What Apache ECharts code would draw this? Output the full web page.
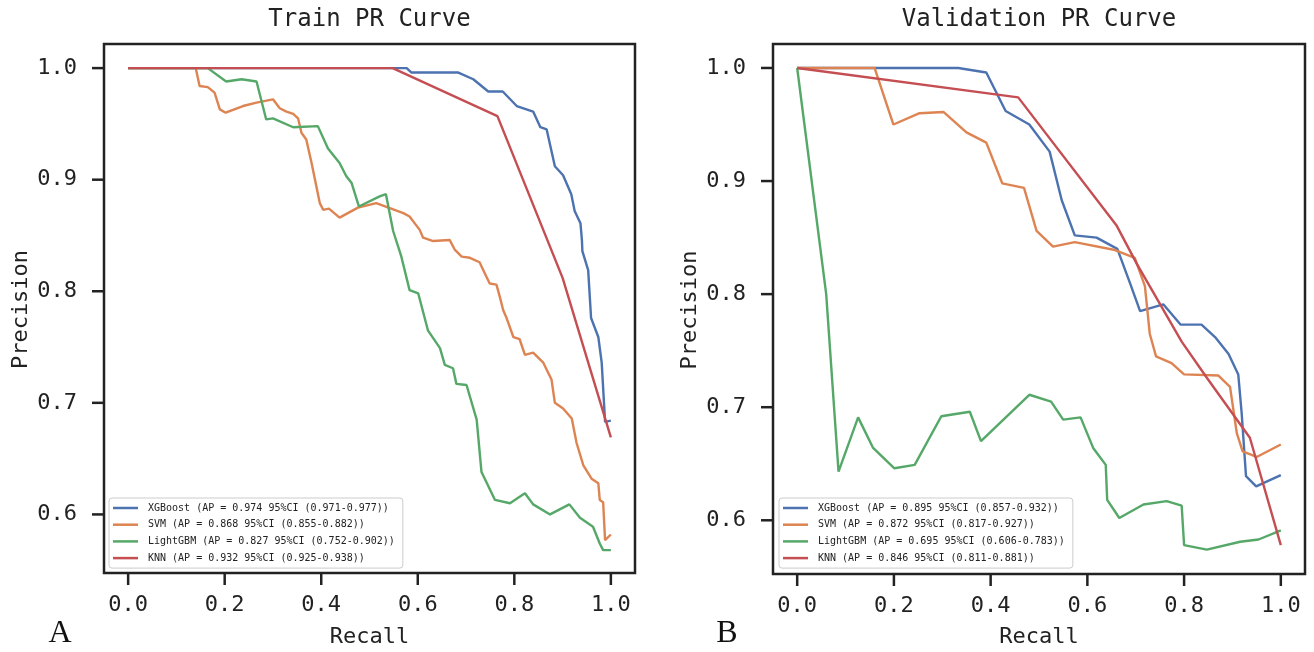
<!DOCTYPE html>
<html>
<head>
<meta charset="utf-8">
<script src="https://cdn.jsdelivr.net/npm/echarts@6/dist/echarts.min.js"></script>
<style>html,body{margin:0;padding:0;background:#fff}#c{width:1314px;height:652px}</style>
</head>
<body>
<div id="c"></div>
<script>
// ---------- DATA ----------
const panelTitles = ['Train PR Curve', 'Validation PR Curve'];
const panelLetters = ['A', 'B'];
const xTicks = [0.0, 0.2, 0.4, 0.6, 0.8, 1.0];
const yTicks = [0.6, 0.7, 0.8, 0.9, 1.0];
const xLabel = 'Recall';
const yLabel = 'Precision';
const trainLegend = [
  'XGBoost (AP = 0.974 95%CI (0.971-0.977))',
  'SVM (AP = 0.868 95%CI (0.855-0.882))',
  'LightGBM (AP = 0.827 95%CI (0.752-0.902))',
  'KNN (AP = 0.932 95%CI (0.925-0.938))'
];
const valLegend = [
  'XGBoost (AP = 0.895 95%CI (0.857-0.932))',
  'SVM (AP = 0.872 95%CI (0.817-0.927))',
  'LightGBM (AP = 0.695 95%CI (0.606-0.783))',
  'KNN (AP = 0.846 95%CI (0.811-0.881))'
];

// [recall, precision]
const trainXGBoost = [[0,1],[0.577,1],[0.587,0.996],[0.684,0.996],[0.715,0.990],[0.746,0.979],[0.776,0.979],[0.805,0.966],[0.839,0.961],[0.854,0.947],[0.867,0.945],[0.884,0.912],[0.901,0.904],[0.918,0.887],[0.925,0.872],[0.937,0.861],[0.940,0.846],[0.941,0.836],[0.953,0.819],[0.959,0.776],[0.974,0.759],[0.981,0.736],[0.988,0.683],[1.0,0.684]];
const trainSVM = [[0,1],[0.140,1],[0.148,0.984],[0.165,0.983],[0.179,0.978],[0.190,0.963],[0.202,0.960],[0.238,0.966],[0.266,0.969],[0.300,0.972],[0.314,0.964],[0.328,0.961],[0.342,0.959],[0.352,0.955],[0.359,0.942],[0.369,0.936],[0.380,0.915],[0.397,0.879],[0.404,0.873],[0.416,0.874],[0.438,0.866],[0.476,0.875],[0.514,0.879],[0.570,0.870],[0.583,0.867],[0.604,0.855],[0.611,0.848],[0.632,0.845],[0.666,0.846],[0.677,0.837],[0.691,0.831],[0.708,0.830],[0.728,0.826],[0.739,0.816],[0.749,0.807],[0.763,0.806],[0.770,0.795],[0.777,0.783],[0.784,0.776],[0.798,0.759],[0.811,0.757],[0.822,0.743],[0.839,0.745],[0.860,0.736],[0.877,0.721],[0.884,0.700],[0.901,0.695],[0.919,0.686],[0.929,0.664],[0.943,0.644],[0.960,0.632],[0.974,0.628],[0.977,0.613],[0.984,0.611],[0.988,0.577],[1.0,0.582]];
const trainLightGBM = [[0,1],[0.165,1],[0.203,0.988],[0.235,0.990],[0.266,0.988],[0.286,0.954],[0.300,0.955],[0.342,0.947],[0.393,0.948],[0.414,0.928],[0.438,0.915],[0.452,0.903],[0.463,0.897],[0.478,0.876],[0.521,0.885],[0.534,0.887],[0.549,0.854],[0.566,0.831],[0.583,0.801],[0.601,0.798],[0.621,0.765],[0.646,0.749],[0.656,0.734],[0.673,0.731],[0.680,0.717],[0.701,0.716],[0.722,0.685],[0.732,0.638],[0.760,0.613],[0.791,0.610],[0.822,0.619],[0.839,0.609],[0.874,0.600],[0.914,0.609],[0.936,0.597],[0.963,0.589],[0.977,0.574],[0.984,0.568],[1.0,0.568]];
const trainKNN = [[0,1],[0.548,1],[0.765,0.957],[0.900,0.812],[1.0,0.669]];

const valXGBoost = [[0,1],[0.333,1],[0.391,0.996],[0.431,0.962],[0.480,0.950],[0.522,0.926],[0.547,0.883],[0.574,0.852],[0.619,0.850],[0.662,0.840],[0.688,0.810],[0.709,0.785],[0.757,0.791],[0.793,0.773],[0.836,0.773],[0.864,0.762],[0.892,0.747],[0.912,0.729],[0.919,0.695],[0.928,0.639],[0.949,0.630],[1.0,0.640]];
const valSVM = [[0,1],[0.160,1],[0.199,0.950],[0.253,0.960],[0.303,0.961],[0.350,0.943],[0.391,0.934],[0.424,0.898],[0.469,0.894],[0.495,0.856],[0.529,0.842],[0.574,0.846],[0.657,0.839],[0.698,0.832],[0.719,0.807],[0.729,0.765],[0.742,0.745],[0.774,0.739],[0.800,0.729],[0.871,0.728],[0.895,0.718],[0.909,0.677],[0.921,0.661],[0.950,0.656],[1.0,0.667]];
const valLightGBM = [[0,1],[0.060,0.800],[0.0855,0.643],[0.126,0.691],[0.157,0.664],[0.201,0.646],[0.243,0.649],[0.298,0.692],[0.357,0.696],[0.380,0.670],[0.480,0.711],[0.525,0.705],[0.550,0.689],[0.586,0.691],[0.612,0.664],[0.638,0.649],[0.641,0.618],[0.666,0.602],[0.716,0.614],[0.764,0.617],[0.795,0.613],[0.800,0.578],[0.847,0.574],[0.916,0.581],[0.954,0.583],[1.0,0.591]];
const valKNN = [[0,1],[0.457,0.974],[0.660,0.861],[0.702,0.827],[0.795,0.758],[0.847,0.726],[0.936,0.673],[1.0,0.578]];

const trainSeries = [trainXGBoost, trainSVM, trainLightGBM, trainKNN];
const valSeries = [valXGBoost, valSVM, valLightGBM, valKNN];
const colors = ['#4C72B0', '#DD8452', '#55A868', '#C44E52'];

// ---------- LAYOUT ----------
const MONO = '"DejaVu Sans Mono", "Liberation Mono", monospace';
const boxes = [
  {left: 104, top: 44, width: 531, height: 529},
  {left: 773, top: 44, width: 532, height: 530}
];
const xView = [-0.05, 1.05];
const yViews = [[0.5475, 1.0216], [0.5525, 1.0212]];
const TICK = 12;

const chart = echarts.init(document.getElementById('c'), null, {renderer: 'canvas'});

const gridOpts = boxes.map(b => ({left: b.left, top: b.top, width: b.width, height: b.height,
  show: true, borderColor: '#222', borderWidth: 2.5, backgroundColor: 'transparent', containLabel: false}));

// outward tick marks are drawn as part of each axis label (rich-text bar + number)
const xRich = {
  t: {width: 2.5, height: TICK, backgroundColor: '#222', align: 'center'},
  v: {fontFamily: MONO, fontSize: 22, color: '#222', lineHeight: 40, align: 'center'}
};
const yRich = {
  v: {fontFamily: MONO, fontSize: 22, color: '#222', verticalAlign: 'middle'},
  g: {width: 15, height: 2},
  t: {width: TICK, height: 2.5, backgroundColor: '#222', verticalAlign: 'middle'}
};

const xAxes = [0, 1].map(i => ({
  type: 'value', gridIndex: i, min: xView[0], max: xView[1], position: 'bottom',
  axisLine: {show: false, onZero: false}, axisTick: {show: false}, splitLine: {show: false},
  axisLabel: {show: true, customValues: xTicks, margin: 0, rich: xRich,
    formatter: v => '{t|}\n{v|' + v.toFixed(1) + '}'}
}));
const yAxes = [0, 1].map(i => ({
  type: 'value', gridIndex: i, min: yViews[i][0], max: yViews[i][1], position: 'left',
  axisLine: {show: false, onZero: false}, axisTick: {show: false}, splitLine: {show: false},
  axisLabel: {show: true, customValues: yTicks, margin: 0, rich: yRich,
    formatter: v => '{v|' + v.toFixed(1) + '}{g|}{t|}'}
}));

const series = [];
[trainSeries, valSeries].forEach((set, p) => {
  const names = p === 0 ? trainLegend : valLegend;
  set.forEach((data, k) => {
    series.push({
      type: 'line', name: names[k], xAxisIndex: p, yAxisIndex: p,
      data: data, showSymbol: false, symbol: 'none', smooth: false,
      lineStyle: {color: colors[k], width: 2.4}, itemStyle: {color: colors[k]},
      emphasis: {disabled: true}, animation: false, z: 2 + k, clip: false
    });
  });
});

function legendFor(p) {
  return {
    data: p === 0 ? trainLegend : valLegend,
    orient: 'vertical', left: p === 0 ? 109 : 779, top: 498,
    backgroundColor: '#fff', borderColor: '#ccc', borderWidth: 1, borderRadius: 3,
    padding: [4, 8, 4, 4], itemGap: 4.7, itemWidth: 25, itemHeight: 2.5, icon: 'rect',
    textStyle: {fontFamily: MONO, fontSize: 10, color: '#222', lineHeight: 12, padding: [0, 0, 0, 5]},
    selectedMode: false, z: 10
  };
}

const graphics = [];
boxes.forEach((b, i) => {
  graphics.push({type: 'text', x: b.left + b.width / 2, y: 20,
    style: {text: panelTitles[i], font: '24px ' + MONO, fill: '#222', align: 'center', verticalAlign: 'middle'}});
  graphics.push({type: 'text', x: b.left + b.width / 2, y: 637,
    style: {text: xLabel, font: '22px ' + MONO, fill: '#222', align: 'center', verticalAlign: 'middle'}});
  graphics.push({type: 'text', x: b.left - 83, y: b.top + b.height / 2 + 1, rotation: Math.PI / 2,
    style: {text: yLabel, font: '22px ' + MONO, fill: '#222', align: 'center', verticalAlign: 'middle'}});
  graphics.push({type: 'text', x: i === 0 ? 60 : 727, y: 634,
    style: {text: panelLetters[i], font: '32px "Liberation Serif", "DejaVu Serif", serif', fill: '#111', align: 'center', verticalAlign: 'middle'}});
});

chart.setOption({
  animation: false,
  backgroundColor: '#fff',
  grid: gridOpts,
  xAxis: xAxes,
  yAxis: yAxes,
  legend: [legendFor(0), legendFor(1)],
  series: series,
  graphic: graphics
});
</script>
</body>
</html>
